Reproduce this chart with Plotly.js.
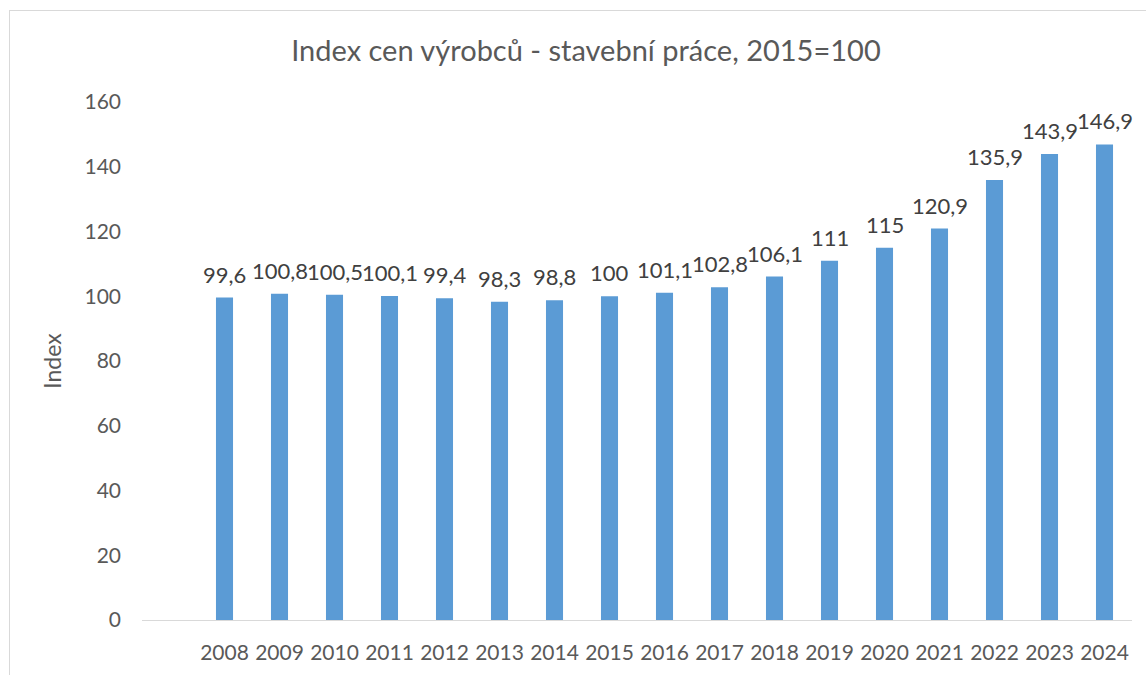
<!DOCTYPE html>
<html>
<head>
<meta charset="utf-8">
<script src="https://cdn.plot.ly/plotly-3.0.1.min.js"></script>
<style>
html,body{margin:0;padding:0;background:#fff;}
#wrap{position:relative;width:1146px;height:675px;overflow:hidden;}
#frame{position:absolute;left:9px;top:10px;width:1200px;height:700px;border:1px solid #d9d9d9;box-sizing:border-box;pointer-events:none;}
#chart{position:absolute;left:0;top:0;width:1146px;height:675px;}
</style>
</head>
<body>
<div id="wrap"><div id="frame"></div><div id="chart"></div></div>
<script>
const years = ['2008','2009','2010','2011','2012','2013','2014','2015','2016','2017','2018','2019','2020','2021','2022','2023','2024'];
const values = [99.6,100.8,100.5,100.1,99.4,98.3,98.8,100,101.1,102.8,106.1,111,115,120.9,135.9,143.9,146.9];
const yTicks = [0,20,40,60,80,100,120,140,160];

const fmt = v => String(v).replace('.', ',');
const idx = years.map((_, i) => i);

const trace = {
  type: 'bar',
  x: idx,
  y: values,
  marker: {color: '#5B9BD5'},
  hoverinfo: 'y'
};

const annotations = idx.map(i => ({
  x: i, y: values[i], xref: 'x', yref: 'y',
  text: fmt(values[i]), showarrow: false,
  xanchor: 'center', yanchor: 'bottom', yshift: 8,
  font: {family: 'Lato, sans-serif', size: 22, color: '#404040'}
}));

const layout = {
  width: 1146, height: 675,
  margin: {l: 142, r: 14, t: 102, b: 55},
  paper_bgcolor: 'rgba(0,0,0,0)',
  plot_bgcolor: 'rgba(0,0,0,0)',
  bargap: 0.69,
  showlegend: false,
  title: {
    text: 'Index cen výrobců - stavební práce, 2015=100',
    x: 0.5113, xref: 'container', xanchor: 'center',
    y: 0.925, yref: 'container', yanchor: 'middle',
    font: {family: 'Lato, sans-serif', size: 29, color: '#595959'}
  },
  xaxis: {
    type: 'linear',
    range: [-1.5, 16.5],
    tickvals: idx,
    ticktext: years,
    showline: true, linecolor: '#d9d9d9', linewidth: 1,
    showgrid: false, zeroline: false, ticks: '',
    ticklabelstandoff: 14,
    tickfont: {family: 'Lato, sans-serif', size: 21, color: '#595959'}
  },
  yaxis: {
    range: [0, 160],
    tickvals: yTicks,
    ticktext: yTicks.map(String),
    showline: false, showgrid: false, zeroline: false, ticks: '',
    ticklabelstandoff: 20,
    tickfont: {family: 'Lato, sans-serif', size: 21, color: '#595959'},
    title: {text: 'Index', standoff: 16, font: {family: 'Lato, sans-serif', size: 23, color: '#595959'}}
  },
  annotations: annotations
};

Plotly.newPlot('chart', [trace], layout, {displayModeBar: false});
</script>
</body>
</html>
